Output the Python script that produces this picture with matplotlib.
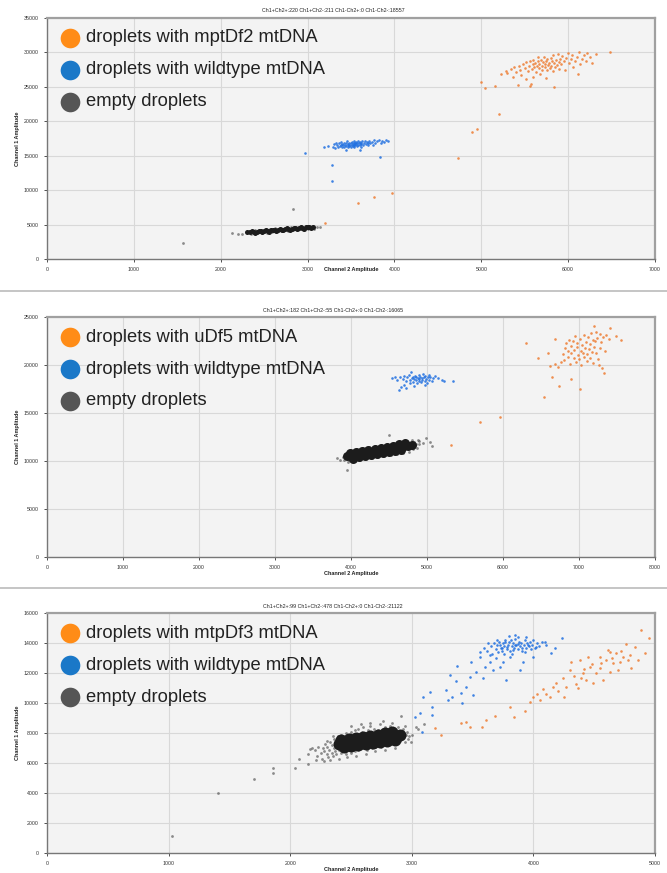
import matplotlib
matplotlib.use("Agg")
import matplotlib.pyplot as plt

# ---------------- data ----------------
titles = [
    "Ch1+Ch2+:220 Ch1+Ch2-:211 Ch1-Ch2+:0 Ch1-Ch2-:18557",
    "Ch1+Ch2+:182 Ch1+Ch2-:55 Ch1-Ch2+:0 Ch1-Ch2-:16065",
    "Ch1+Ch2+:99 Ch1+Ch2-:478 Ch1-Ch2+:0 Ch1-Ch2-:21122",
]
legend_labels = [
    ["droplets with mptDf2 mtDNA", "droplets with wildtype mtDNA", "empty droplets"],
    ["droplets with uDf5 mtDNA", "droplets with wildtype mtDNA", "empty droplets"],
    ["droplets with mtpDf3 mtDNA", "droplets with wildtype mtDNA", "empty droplets"],
]
x_limits = [7000, 8000, 5000]
y_limits = [35000, 25000, 16000]
x_steps = [1000, 1000, 1000]
y_steps = [5000, 5000, 2000]

# panel 1 : mptDf2
p1_orange = [(5230,26800),(5280,27300),(5300,27000),(5340,27600),(5360,26400),(5380,27900),(5400,27200),
             (5420,25300),(5430,28100),(5450,27500),(5460,26700),(5480,28300),(5500,27800),(5510,26100),
             (5520,28600),(5540,27300),(5550,28000),(5560,25100),(5560,28800),(5570,25400),(5580,27600),
             (5590,28300),(5600,26500),(5600,28900),(5610,27900),(5620,28500),(5630,27200),(5640,28100),
             (5650,28700),(5650,29300),(5660,27700),(5670,28300),(5680,26900),(5690,28900),(5700,28000),
             (5700,27500),(5710,28600),(5720,29400),(5730,27900),(5730,28300),(5740,26300),(5750,28800),
             (5760,27400),(5760,29000),(5770,28200),(5780,28500),(5790,27800),(5800,29200),(5800,28100),
             (5810,28700),(5820,27300),(5830,29600),(5840,28400),(5840,25000),(5850,27900),(5860,28900),
             (5870,28200),(5880,29800),(5890,28600),(5900,27600),(5910,29100),(5920,28300),(5930,29500),
             (5950,28800),(5960,27500),(5980,29200),(6000,29900),(6010,28400),(6030,29000),(6050,29600),
             (6060,27900),(6080,28700),(6100,29300),(6110,26800),(6120,30000),(6140,28300),(6160,29100),
             (6180,29600),(6200,28700),(6220,29900),(6250,29400),(6280,28400),(6320,29700),(6480,30100),
             (3580,8130),(3764,9000),(3970,9580),(4730,14660),(4890,18440),(4950,18870),(5200,21050),
             (4995,25700),(5040,24830),(5160,25120),(3200,5230)]
p1_blue = [(3290,16300),(3310,16700),(3320,16100),(3330,16900),(3340,16500),(3350,16200),(3360,16800),
           (3370,16400),(3380,16600),(3390,17000),(3400,16300),(3400,16700),(3410,16500),(3420,16900),
           (3420,16200),(3430,16600),(3440,16400),(3440,16800),(3450,17100),(3460,16500),(3460,16300),
           (3470,16700),(3480,16900),(3480,16400),(3490,16600),(3500,16800),(3500,16200),(3510,16500),
           (3510,17000),(3520,16700),(3520,16400),(3530,16900),(3530,16600),(3540,17200),(3540,16300),
           (3550,16800),(3550,16500),(3560,16700),(3560,17000),(3570,16400),(3570,16900),(3580,16600),
           (3580,17100),(3590,16800),(3600,16500),(3600,17000),(3610,16700),(3620,16900),(3620,16300),
           (3630,17200),(3640,16600),(3650,16900),(3660,17100),(3670,16700),(3680,17000),(3690,16500),
           (3700,16900),(3710,17200),(3720,16800),(3740,17000),(3750,16600),(3760,17300),(3780,16900),
           (3800,17100),(3820,17300),(3840,16900),(3860,17200),(3880,17000),(3900,17300),(3925,17100),
           (3440,15800),(3600,15900),(3190,16200),(3240,16400),
           (2970,15400),(3280,13650),(3280,11330),(3833,14810)]
p1_black_core = [(2300,3850),(2340,3900),(2380,3940),(2420,3990),(2460,4030),(2500,4070),(2540,4110),
                 (2580,4160),(2620,4200),(2660,4240),(2700,4280),(2740,4320),(2780,4370),(2820,4410),
                 (2860,4450),(2900,4490),(2940,4530),(2980,4580),(3020,4620),(3060,4660),
                 (2360,4020),(2440,4110),(2520,4190),(2600,4280),(2680,4360),(2760,4440),(2840,4530),
                 (2920,4610),(3000,4700),(2400,3810),(2480,3900),(2560,3980),(2640,4070),(2720,4150),
                 (2800,4240),(2880,4320),(2960,4400),(3040,4480)]
p1_black = [(2330,4120),(2390,4180),(2450,4250),(2510,4300),(2570,4370),(2630,4430),(2690,4500),
            (2750,4550),(2810,4620),(2870,4680),(2930,4740),(2990,4790),(3050,4850),
            (2350,3650),(2410,3720),(2470,3780),(2530,3830),(2590,3900),(2650,3960),(2710,4020),
            (2770,4070),(2830,4140),(2890,4200),(2950,4260),(3010,4310),(3070,4380),
            (1565,2320),(2130,3775),(2198,3630),(2832,7260),(2240,3700),(3110,4650),(3140,4700)]

# panel 2 : uDf5
p2_orange = [(6300,22300),(6460,20730),(6590,21260),(6690,22720),(7200,24070),(7410,23860),(7490,23030),
             (7550,22610),(6540,16670),(6740,17820),(6650,18760),(6900,18550),(7010,17510),(7330,19170),
             (7260,20000),(6620,19900),(6680,20100),(6720,19800),(6760,20300),(6790,21100),(6800,20500),
             (6820,21800),(6830,22300),(6850,20800),(6860,21500),(6870,22600),(6880,20100),(6900,21200),
             (6900,22000),(6920,22500),(6930,20700),(6940,21600),(6950,23000),(6960,20300),(6970,21900),
             (6980,22300),(6990,21000),(7000,20600),(7010,22700),(7020,21500),(7030,20000),(7040,22100),
             (7050,21300),(7060,23100),(7070,20800),(7080,21800),(7090,22400),(7100,21100),(7110,20400),
             (7120,22900),(7130,21700),(7140,22200),(7150,20700),(7160,23300),(7170,21400),(7180,22600),
             (7190,20200),(7200,21900),(7210,22500),(7220,23400),(7230,21200),(7240,22800),(7250,20600),
             (7270,23200),(7280,21800),(7290,22400),(7300,19700),(7320,22900),(7340,21500),(7360,23100),
             (7400,22700),(5320,11670),(5700,14070),(5960,14590)]
p2_blue = [(4540,18600),(4580,18700),(4610,18400),(4630,17400),(4650,18800),(4660,17700),(4680,18500),
           (4700,18900),(4700,17900),(4720,18300),(4740,18700),(4760,19000),(4770,18400),(4780,18100),
           (4790,19300),(4800,18600),(4810,18800),(4820,18200),(4830,18500),(4840,18900),(4850,18400),
           (4860,18700),(4870,18100),(4880,18600),(4890,19000),(4900,18300),(4900,18500),(4910,18800),
           (4920,18200),(4930,18600),(4940,18400),(4950,19100),(4960,18700),(4970,18300),(4980,18900),
           (4990,18500),(5000,18100),(5010,18700),(5020,19000),(5030,18400),(5040,18800),(5060,18300),
           (5080,18600),(5100,18900),(5150,18600),(5200,18400),(5230,18300),(5340,18300),(4830,17800),
           (4980,17900),(4720,17600)]
p2_black_core = [(3950,10470),(4000,10540),(4050,10610),(4100,10680),(4150,10750),(4200,10820),
                 (4250,10890),(4300,10960),(4350,11030),(4400,11100),(4450,11170),(4500,11240),
                 (4550,11310),(4600,11380),(4650,11450),(4700,11520),(4750,11590),(4800,11660),
                 (3990,10800),(4070,10920),(4150,11030),(4230,11150),(4310,11260),(4390,11380),
                 (4470,11490),(4550,11610),(4630,11720),(4710,11840),
                 (4020,10260),(4100,10380),(4180,10490),(4260,10610),(4340,10720),(4420,10840),
                 (4500,10950),(4580,11070),(4660,11180)]
p2_black = [(3900,10400),(3930,10780),(3910,10120),(3970,10150),(4030,10960),(4890,12080),(4850,11730),
            (4900,11800),(4830,11950),(4870,11350),(4810,11230),(4760,10960),(4680,10830),(4600,10750),
            (4000,11150),(4080,11250),(4160,11380),(4240,11470),(4320,11600),(4400,11690),(4480,11800),
            (4560,11900),(4640,12020),(4720,12100),(4800,12230),(3960,9900),(4040,9980),(4120,10110),
            (4200,10200),(4280,10330),(4360,10410),(4440,10540),(4520,10630),
            (3950,9070),(3860,10100),(3820,10300),(4880,12190),(5040,11980),(5070,11560),(4500,12700),
            (4950,11900),(4990,12350)]

# panel 3 : mtpDf3
p3_orange = [(3188,8310),(3243,7867),(3407,8644),(3449,8756),(3476,8423),(3577,8423),(3613,8867),
             (3682,9133),(3805,9756),(3838,9044),(3970,10089),(3997,10422),(4030,10600),(4079,10911),
             (4052,10200),(4134,10422),(4161,11089),(4183,11311),(4252,10378),(4244,11644),(4298,12200),
             (4312,12756),(4381,12867),(4367,10978),(4408,11978),(4435,11533),(4463,12422),(4490,11311),
             (4518,11978),(4545,13089),(4573,11533),(4614,13533),(4628,12089),(4655,12644),(4682,13311),
             (4696,12200),(4737,13089),(4764,13933),(4792,13200),(4833,13756),(4860,12867),(4888,14867),
             (4915,13311),(4951,14311),(4449,13089),(4271,11089),(4394,11644),(4545,12311),(4600,12867),
             (4710,12756),(4805,12311),(4628,13422),(4330,11800),(4420,12300),(4480,12600),(4560,12700),
             (4650,13000),(4720,13500),(4780,12900),(4350,11300),(4200,10800),(4100,10600),(3930,9500)]
p3_blue = [(3092,10378),(3070,9311),(3169,9711),(3169,9200),(3152,10756),(3284,10867),(3312,11867),
           (3298,10200),(3333,10422),(3366,11489),(3407,10644),(3415,9978),(3372,12467),(3449,11089),
           (3476,11756),(3490,12756),(3503,10533),(3531,12089),(3558,13089),(3586,11644),(3600,12422),
           (3641,12756),(3668,12200),(3695,12978),(3723,12422),(3777,11533),(3750,12756),(3805,13089),
           (3887,12200),(3914,12756),(3928,13422),(3997,13089),(4024,13756),(4093,14089),(4147,13311),
           (4175,13644),(4238,14311),(3846,14533),(3558,13422),(3627,13978),(3024,9089),(3087,8089),
           (3620,13500),(3650,13800),(3660,13300),(3680,14000),(3690,13600),(3700,13900),(3710,13400),
           (3720,14100),(3730,13700),(3740,13500),(3750,14000),(3760,13800),(3770,14200),(3780,13600),
           (3790,13900),(3800,14100),(3810,13500),(3820,13800),(3830,14000),(3840,13700),(3850,14300),
           (3860,13900),(3870,13600),(3880,14100),(3890,13800),(3900,14000),(3910,13500),(3920,13900),
           (3930,14200),(3940,13700),(3950,14000),(3960,13800),(3970,14100),(3980,13600),(3990,13900),
           (4000,14200),(4010,13700),(4030,14000),(4050,13800),(4070,14100),(4100,13900),(3760,13300),
           (3820,13300),(3870,14400),(3700,14200),(3640,13200),(3590,13700),(3940,14400),(3800,14450),
           (3725,13850),(3785,13750),(3845,13850),(3905,13650),(3765,14050),(3835,13550),(3875,13950),
           (3955,13850),(3815,14200),(3745,13650)]
p3_black_core = [(2400,7270),(2450,7330),(2500,7390),(2550,7450),(2600,7510),(2650,7570),(2700,7630),
                 (2750,7690),(2800,7750),(2850,7810),(2900,7870),
                 (2420,7540),(2480,7610),(2540,7680),(2600,7760),(2660,7830),(2720,7900),(2780,7970),
                 (2840,8040),(2440,7050),(2500,7120),(2560,7200),(2620,7260),(2680,7340),(2740,7400),
                 (2800,7470),(2860,7540)]
p3_black = [(2200,6900),(2220,6500),(2230,7100),(2250,6700),(2260,6300),(2270,7000),(2280,6800),
            (2290,7300),(2300,6600),(2300,7100),(2310,6400),(2320,6900),(2330,7400),(2340,6700),
            (2340,7200),(2350,6500),(2360,7000),(2360,7600),(2370,6800),(2380,7300),(2380,6600),
            (2390,7800),(2400,6900),(2400,7500),(2410,7100),(2420,6700),(2420,7900),(2430,7300),
            (2440,6800),(2440,7700),(2450,7000),(2460,8000),(2460,6600),(2470,7500),(2480,7200),
            (2480,6900),(2490,7800),(2500,6700),(2500,8100),(2510,7600),(2520,7000),(2530,6800),
            (2530,8200),(2540,7400),(2550,7900),(2560,6900),(2560,8300),(2570,7100),(2580,7700),
            (2590,8100),(2600,7000),(2600,8400),(2610,7300),(2620,7900),(2630,6900),(2640,8200),
            (2650,7200),(2660,8500),(2670,7000),(2680,7900),(2690,8300),(2700,7100),(2710,7500),
            (2720,8200),(2730,7300),(2740,8600),(2750,7100),(2760,8000),(2770,7500),(2780,8400),
            (2790,7200),(2800,8100),(2810,7600),(2820,8500),(2830,7300),(2840,7900),(2850,8300),
            (2860,7400),(2870,8100),(2880,7700),(2890,8400),(2900,7500),(2910,8000),(2920,7700),
            (2930,8300),(2940,7400),(2950,7900),(2960,8100),(2970,7600),(2980,7800),(2990,7400),
            (3000,7900),(2150,6600),(2180,7000),(2210,6200),(2330,6200),(2400,6300),(2470,6400),
            (2540,6500),(2620,6600),(2700,6800),(2780,6900),(2860,7000),(2500,8500),(2580,8600),
            (2660,8700),(2760,8800),(2840,8700),(2940,8500),(3050,8300),(3100,8600),(2914,9133),
            (3038,8378),(2350,7800),(2300,7500),(2280,6150),
            (1030,1130),(1405,4000),(1705,4930),(1855,5670),(1855,5330),(2040,5670),(2070,6270),
            (2150,5930),(2160,6930)]

orange_pts = [p1_orange, p2_orange, p3_orange]
blue_pts = [p1_blue, p2_blue, p3_blue]
core_pts = [p1_black_core, p2_black_core, p3_black_core]
black_pts = [p1_black, p2_black, p3_black]
core_sizes = [13, 42, 75]

# ---------------- layout ----------------
W, H = 667, 873
panel_px = [(47, 18, 655, 259), (47, 317, 655, 557), (47, 613, 655, 853)]
title_y = [11, 310, 606]
xlabel_y = [270, 574, 869]
sep_y = [291, 588]

plt.rcParams['font.family'] = ['Liberation Sans', 'DejaVu Sans']

fig = plt.figure(figsize=(W / 100, H / 100), dpi=100)
fig.patch.set_facecolor("white")


def fx(px):
    return px / W


def fy(py):
    return 1 - py / H


for i in range(3):
    l, t, r, b = panel_px[i]
    ax = fig.add_axes([fx(l), fy(b), fx(r - l), (b - t) / H])
    ax.set_facecolor("#f3f3f3")
    ax.set_xlim(0, x_limits[i])
    ax.set_ylim(0, y_limits[i])
    ax.set_xticks(range(0, x_limits[i] + 1, x_steps[i]))
    ax.set_yticks(range(0, y_limits[i] + 1, y_steps[i]))
    ax.grid(True, color="#d8d8d8", lw=0.8)
    ax.set_axisbelow(True)
    ax.tick_params(labelsize=3.8, length=2, width=0.6, colors="#333333", pad=4)
    for s in ["top", "right"]:
        ax.spines[s].set_color("#a0a0a0")
        ax.spines[s].set_linewidth(1.6)
    for s in ["left", "bottom"]:
        ax.spines[s].set_color("#777777")
        ax.spines[s].set_linewidth(1.0)

    bx, by = zip(*black_pts[i])
    ax.scatter(bx, by, s=4, c="#444444", alpha=0.6, lw=0)
    cx, cy = zip(*core_pts[i])
    ax.scatter(cx, cy, s=core_sizes[i], c="#1c1c1c", alpha=1.0, lw=0)
    ux, uy = zip(*blue_pts[i])
    ax.scatter(ux, uy, s=3.5, c="#1f6fe0", alpha=0.85, lw=0)
    ox, oy = zip(*orange_pts[i])
    ax.scatter(ox, oy, s=3.5, c="#ee7d33", alpha=0.85, lw=0)

    # legend circles + labels
    colors = ["#ff8c17", "#1a78c8", "#555555"]
    for k in range(3):
        yy = t + 20 + 32 * k
        ax.scatter([fx(70)], [fy(yy)], s=200, c=colors[k], lw=0,
                   transform=fig.transFigure, clip_on=False, zorder=5)
        fig.text(fx(86), fy(yy), legend_labels[i][k], fontsize=13.2,
                 va="center", ha="left", color="#222222")

    fig.text(fx(333), fy(title_y[i]), titles[i], fontsize=3.8, ha="center", va="center",
             color="#222222")
    fig.text(fx(351), fy(xlabel_y[i]), "Channel 2 Amplitude", fontsize=4, ha="center",
             va="center", fontweight="bold", color="#222222")
    fig.text(fx(18), fy((t + b) / 2), "Channel 1 Amplitude", fontsize=4, ha="center",
             va="center", rotation=90, fontweight="bold", color="#222222")

for y in sep_y:
    fig.add_artist(plt.Line2D([0, 1], [fy(y), fy(y)], color="#bbbbbb", lw=1.2))

fig.savefig("out.png", dpi=100)
